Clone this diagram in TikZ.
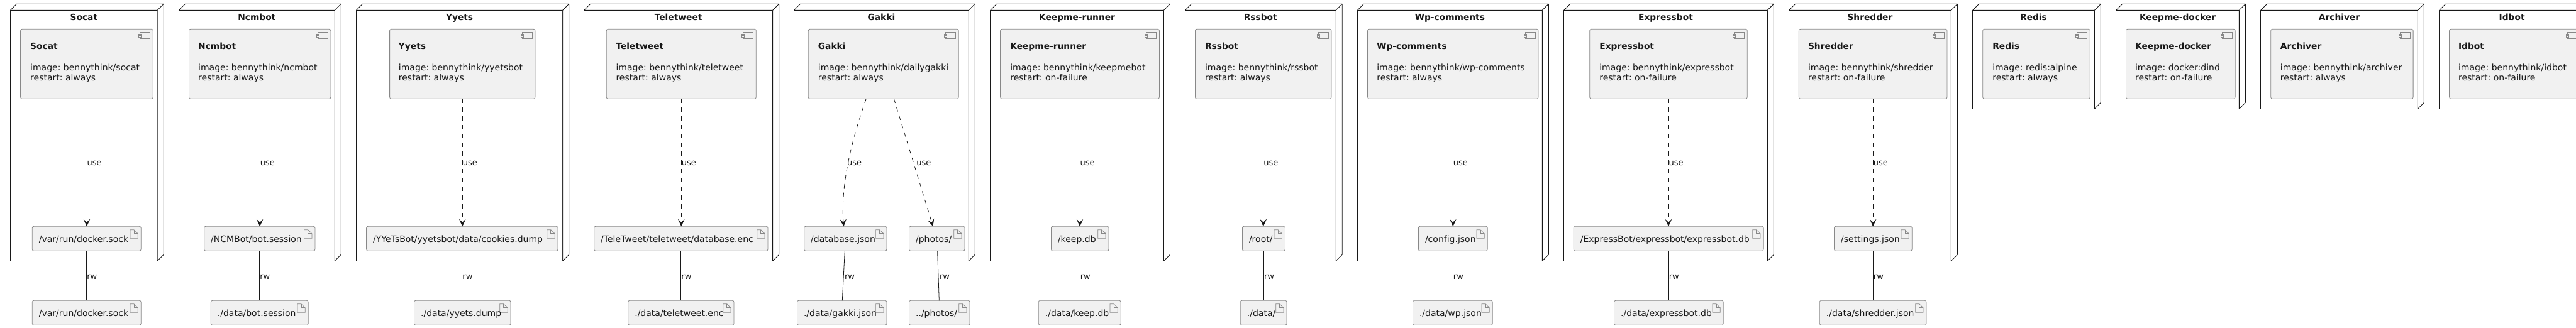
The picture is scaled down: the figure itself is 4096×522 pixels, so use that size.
\documentclass[tikz,border=0pt]{standalone}
\usepackage{fontspec}
\setmainfont{DejaVu Sans}[Ligatures=NoCommon]
\usetikzlibrary{arrows.meta}
\definecolor{lineblk}{HTML}{181818}
\definecolor{boxgrey}{HTML}{888888}
\definecolor{boxfill}{HTML}{F1F1F1}
\tikzset{
  depbox/.style={draw=lineblk,line width=0.9pt,line join=round,fill=white,rectangle,inner sep=0pt,outer sep=0pt},
  grey box/.style={draw=boxgrey,line width=0.8pt,fill=boxfill,rectangle,rounded corners=2.5pt,inner sep=0pt,outer sep=0pt},
  icon/.style={draw=boxgrey,line width=0.7pt,fill=boxfill},
  txt/.style={inner sep=0pt,outer sep=0pt,anchor=base west,font=\fontsize{14}{16}\selectfont,text=lineblk},
  ttl/.style={txt,font=\fontsize{13.8}{16}\selectfont\bfseries},
  lab/.style={inner sep=0.6pt,outer sep=0pt,anchor=base west,font=\fontsize{13}{15}\selectfont,text=lineblk},
  conn/.style={draw=lineblk,line width=0.8pt},
  useconn/.style={conn,dash pattern=on 7pt off 7pt,-{Stealth[length=11.5pt,width=10.5pt,inset=5pt,sep=0pt]},fill=none}
}
% name, title, x0, x1, bottom
\newcommand{\depnode}[5]{%
  \pgfmathsetmacro{\cxx}{(#3+#4-0.4)/2}%
  \pgfmathsetmacro{\cyy}{(16.3+#5)/2}%
  \pgfmathsetmacro{\www}{#4-#3-0.4}%
  \pgfmathsetmacro{\hhh}{#5-16.3}%
  \node[depbox,minimum width=\www pt,minimum height=\hhh pt] (#1) at (\cxx,\cyy) {};
  \draw[depbox] (#1.north west) -- ++(10,-10) -- ([shift={(10pt,10pt)}]#1.north east) -- ([shift={(10pt,10pt)}]#1.south east) -- (#1.south east) -- (#1.north east) -- cycle;
  \draw[depbox] (#1.north east) -- ++(10,-10);
  \node[ttl,anchor=base] (#1T) at (\cxx,32) {#2};
}
% name, x0, x1, textx, title, image, restart
\newcommand{\comp}[7]{%
  \pgfmathsetmacro{\cxx}{(#2+#3-0.4)/2}%
  \pgfmathsetmacro{\www}{#3-#2-0.4}%
  \node[grey box,minimum width=\www pt,minimum height=111pt] (#1) at (\cxx,101.8) {};
  \draw[icon] ([shift={(-20.7pt,-5.4pt)}]#1.north east) rectangle ([shift={(-4.7pt,-15.4pt)}]#1.north east);
  \draw[icon] ([shift={(-22.7pt,-8.4pt)}]#1.north east) rectangle ([shift={(-18.7pt,-10.4pt)}]#1.north east);
  \draw[icon] ([shift={(-22.7pt,-11pt)}]#1.north east) rectangle ([shift={(-18.7pt,-13pt)}]#1.north east);
  \node[ttl] (#1n) at (#4,78.8) {#5};
  \node[txt] (#1i) at (#4,112) {image: #6};
  \node[txt] (#1r) at (#4,128.2) {restart: #7};
}
% name, x0, x1, ytop, text
\newcommand{\artifact}[5]{%
  \pgfmathsetmacro{\cxx}{(#2+#3-0.4)/2}%
  \pgfmathsetmacro{\cyy}{#4+19.5}%
  \pgfmathsetmacro{\www}{#3-#2-0.4}%
  \pgfmathsetmacro{\tx}{#2+10.6}%
  \pgfmathsetmacro{\ty}{#4+25.5}%
  \node[grey box,minimum width=\www pt,minimum height=39pt] (#1) at (\cxx,\cyy) {};
  \draw[icon] ([shift={(-17.3pt,-5.4pt)}]#1.north east) -- ([shift={(-11.3pt,-5.4pt)}]#1.north east) -- ([shift={(-5pt,-11.4pt)}]#1.north east) -- ([shift={(-5pt,-19pt)}]#1.north east) -- ([shift={(-17.3pt,-19pt)}]#1.north east) -- cycle;
  \draw[icon,fill=none] ([shift={(-11.3pt,-5.4pt)}]#1.north east) -- ([shift={(-11.3pt,-11.4pt)}]#1.north east) -- ([shift={(-5pt,-11.4pt)}]#1.north east);
  \node[txt] (#1t) at (\tx,\ty) {#5};
}
\newcommand{\useedge}[2]{\draw[useconn] (#1.south) -- node[lab,yshift=-4.9pt] (#1u) {use} (#1.south |- #2.north);}
\newcommand{\rwedge}[2]{\draw[conn] (#1.south) -- node[lab,yshift=-5.2pt] (#1w) {rw} (#1.south |- #2.north);}
\begin{document}
\begin{tikzpicture}[x=1pt,y=-1pt,every node/.append style={execute at begin node=\frenchspacing}]
\useasboundingbox (0,0) rectangle (4096,522);
% Socat
\depnode{socat}{Socat}{16.5}{250.6}{415.3}
\comp{socatC}{32.6}{243.7}{48.2}{Socat}{bennythink/socat}{always}
\artifact{socatA}{51.3}{224.6}{360.3}{/var/run/docker.sock}
\artifact{socatE}{51.3}{224.6}{478.3}{/var/run/docker.sock}
\useedge{socatC}{socatA}\rwedge{socatA}{socatE}
% Ncmbot
\depnode{ncmbot}{Ncmbot}{284.4}{532.6}{415.3}
\comp{ncmbotC}{300.4}{526.3}{315.2}{Ncmbot}{bennythink/ncmbot}{always}
\artifact{ncmbotA}{324.6}{501.3}{360.3}{/NCMBot/bot.session}
\artifact{ncmbotE}{335.3}{490.6}{478.3}{./data/bot.session}
\useedge{ncmbotC}{ncmbotA}\rwedge{ncmbotA}{ncmbotE}
% Yyets
\depnode{yyets}{Yyets}{566.5}{895.1}{415.3}
\comp{yyetsC}{619.6}{851.3}{633.9}{Yyets}{bennythink/yyetsbot}{always}
\artifact{yyetsA}{582.6}{887.5}{360.3}{/YYeTsBot/yyetsbot/data/cookies.dump}
\artifact{yyetsE}{658.5}{812.5}{478.3}{./data/yyets.dump}
\useedge{yyetsC}{yyetsA}\rwedge{yyetsA}{yyetsE}
% Teletweet
\depnode{teletweet}{Teletweet}{928.6}{1229}{415.3}
\comp{teletweetC}{964.3}{1202.7}{979.5}{Teletweet}{bennythink/teletweet}{always}
\artifact{teletweetA}{944.6}{1221.4}{360.3}{/TeleTweet/teletweet/database.enc}
\artifact{teletweetE}{998.7}{1167.4}{478.3}{./data/teletweet.enc}
\useedge{teletweetC}{teletweetA}\rwedge{teletweetA}{teletweetE}
% Gakki
\depnode{gakki}{Gakki}{1262.5}{1540.6}{415.3}
\comp{gakkiC}{1285.3}{1524.6}{1300.9}{Gakki}{bennythink/dailygakki}{always}
\artifact{gakkiA}{1278.6}{1410.3}{360.3}{/database.json}
\artifact{gakkiB}{1445.5}{1534.4}{360.3}{/photos/}
\artifact{gakkiE}{1267.4}{1410.3}{478.3}{./data/gakki.json}
\artifact{gakkiF}{1445.5}{1542.4}{478.3}{../photos/}
\draw[useconn] ([xshift=91.9pt]gakkiC.south west) .. controls (1350,235) and (1337,300) .. ([xshift=62.9pt]gakkiA.north west);
\draw[useconn] ([xshift=136.1pt]gakkiC.south west) -- ([xshift=38pt]gakkiB.north west);
\node[lab] (gakkiu) at (1346.4,263.7) {use};
\node[lab] (gakkiv) at (1456.7,263.7) {use};
\draw[conn] ([xshift=64.7pt]gakkiA.south west) -- ([xshift=71.9pt]gakkiE.north west);
\draw[conn] ([xshift=45.1pt]gakkiB.south west) -- ([xshift=47.8pt]gakkiF.north west);
\node[lab] (gakkiw) at (1342.4,444) {rw};
\node[lab] (gakkix) at (1493.5,444) {rw};
% Keepme-runner
\depnode{runner}{Keepme-runner}{1574.6}{1850.9}{415.3}
\comp{runnerC}{1590.6}{1843.8}{1606.3}{Keepme-runner}{bennythink/keepmebot}{on-failure}
\artifact{runnerA}{1671.4}{1763.4}{360.3}{/keep.db}
\artifact{runnerE}{1651.3}{1782.6}{478.3}{./data/keep.db}
\useedge{runnerC}{runnerA}\rwedge{runnerA}{runnerE}
% Rssbot
\depnode{rssbot}{Rssbot}{1884.4}{2124.6}{415.3}
\comp{rssbotC}{1900.4}{2117.4}{1916}{Rssbot}{bennythink/rssbot}{always}
\artifact{rssbotA}{1975.4}{2043.8}{360.3}{/root/}
\artifact{rssbotE}{1972.3}{2046.4}{478.3}{./data/}
\useedge{rssbotC}{rssbotA}\rwedge{rssbotA}{rssbotE}
% Wp-comments
\depnode{wp}{Wp-comments}{2158.5}{2452.7}{415.3}
\comp{wpC}{2174.6}{2446.4}{2189.3}{Wp-comments}{bennythink/wp-comments}{always}
\artifact{wpA}{2255.4}{2365.6}{360.3}{/config.json}
\artifact{wpE}{2246.4}{2373.7}{478.3}{./data/wp.json}
\useedge{wpC}{wpA}\rwedge{wpA}{wpE}
% Expressbot
\depnode{express}{Expressbot}{2486.6}{2810.7}{415.3}
\comp{expressC}{2527.7}{2778.6}{2543.3}{Expressbot}{bennythink/expressbot}{on-failure}
\artifact{expressA}{2502.2}{2804.5}{360.3}{/ExpressBot/expressbot/expressbot.db}
\artifact{expressE}{2566.5}{2740.6}{478.3}{./data/expressbot.db}
\useedge{expressC}{expressA}\rwedge{expressA}{expressE}
% Shredder
\depnode{shredder}{Shredder}{2844.6}{3102.7}{415.3}
\comp{shredderC}{2860.3}{3096.4}{2875}{Shredder}{bennythink/shredder}{on-failure}
\artifact{shredderA}{2916.5}{3040.6}{360.3}{/settings.json}
\artifact{shredderE}{2893.3}{3063.4}{478.3}{./data/shredder.json}
\useedge{shredderC}{shredderA}\rwedge{shredderA}{shredderE}
% Redis
\depnode{redis}{Redis}{3136.6}{3330.8}{173.3}
\comp{redisC}{3152.7}{3323.7}{3168.3}{Redis}{redis:alpine}{always}
% Keepme-docker
\depnode{docker}{Keepme-docker}{3364.7}{3560.7}{173.3}
\comp{dockerC}{3380.4}{3554.5}{3395}{Keepme-docker}{docker:dind}{on-failure}
% Archiver
\depnode{archiver}{Archiver}{3594.7}{3844.7}{173.3}
\comp{archiverC}{3610.7}{3837.5}{3625.9}{Archiver}{bennythink/archiver}{always}
% Idbot
\depnode{idbot}{Idbot}{3878.6}{4110}{173.3}
\comp{idbotC}{3894.6}{4103}{3909}{Idbot}{bennythink/idbot}{on-failure}
\end{tikzpicture}
\end{document}
